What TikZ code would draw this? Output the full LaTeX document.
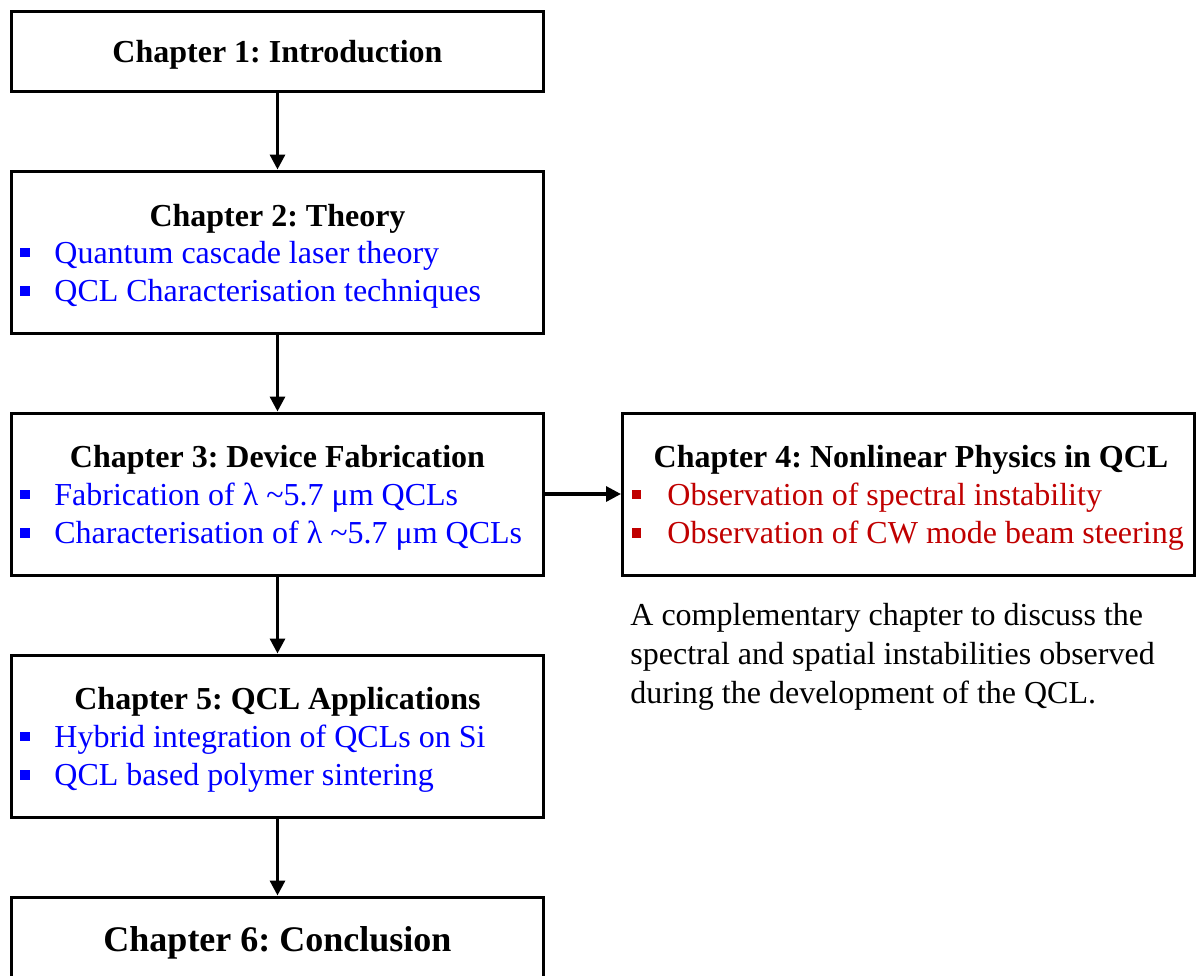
\documentclass[tikz,border=0pt]{standalone}
\usepackage{fontspec}
\setmainfont{Liberation Serif}
\usetikzlibrary{arrows.meta}
\definecolor{itemblue}{RGB}{0,0,255}
\definecolor{itemred}{RGB}{192,0,0}
\frenchspacing
\begin{document}
\begin{tikzpicture}[x=0.5pt, y=-0.5pt,
  every node/.style={inner sep=0pt, font=\fontsize{16}{19.5}\selectfont},
  chapbox/.style={draw, line width=1.5pt, minimum width=266pt, minimum height=81pt},
  chaptitle/.style={anchor=base, font=\fontsize{16}{19.5}\selectfont\bfseries},
  chapitem/.style={anchor=base west},
  sq/.style={fill, minimum width=4.8pt, minimum height=4.8pt},
  link/.style={line width=1.6pt, -{Triangle[length=7.5pt,width=7.5pt]}}]
\useasboundingbox (0,0) rectangle (1196,976);
\clip (0,0) rectangle (1196,976);
\node[chapbox, minimum height=40pt] (b1) at (277.5,51.5) {};
\node[chapbox] (b2) at (277.5,252) {};
\node[chapbox] (b3) at (277.5,494) {};
\node[chapbox, minimum width=286pt] (b4) at (908.5,494) {};
\node[chapbox] (b5) at (277.5,736) {};
\node[chapbox] (b6) at (277.5,978) {};
\draw[link] (b1) -- (b2);
\draw[link] (b2) -- (b3);
\draw[link] (b3) -- (b5);
\draw[link] (b5) -- (b6);
\draw[link] (b3) -- (b4);
\node[chaptitle] (t1) at (277.5,62) {Chapter 1: Introduction};
\node[chaptitle] (t2) at (277.5,226) {Chapter 2: Theory};
\node[sq, itemblue] (s2a) at (25,252.5) {};
\node[chapitem, itemblue] (i2a) at (54,263) {Quantum cascade laser theory};
\node[sq, itemblue] (s2b) at (25,291) {};
\node[chapitem, itemblue] (i2b) at (54,301.5) {QCL Characterisation techniques};
\node[chaptitle] (t3) at (277.5,467.5) {Chapter 3: Device Fabrication};
\node[sq, itemblue] (s3a) at (25,494.5) {};
\node[chapitem, itemblue] (i3a) at (54,505) {Fabrication of λ \textasciitilde5.7 μm QCLs};
\node[sq, itemblue] (s3b) at (25,533) {};
\node[chapitem, itemblue] (i3b) at (54,543.5) {Characterisation of λ \textasciitilde5.7 μm QCLs};
\node[chaptitle] (t4) at (911,467.5) {Chapter 4: Nonlinear Physics in QCL};
\node[sq, itemred] (s4a) at (636.5,494.5) {};
\node[chapitem, itemred] (i4a) at (667,505) {Observation of spectral instability};
\node[sq, itemred] (s4b) at (636.5,533) {};
\node[chapitem, itemred] (i4b) at (667,543.5) {Observation of CW mode beam steering};
\node[chapitem] (p1) at (630,625) {A complementary chapter to discuss the};
\node[chapitem] (p2) at (630,664) {spectral and spatial instabilities observed};
\node[chapitem] (p3) at (630,703) {during the development of the QCL.};
\node[chaptitle] (t5) at (277.5,709.5) {Chapter 5: QCL Applications};
\node[sq, itemblue] (s5a) at (25,736.5) {};
\node[chapitem, itemblue] (i5a) at (54,747) {Hybrid integration of QCLs on Si};
\node[sq, itemblue] (s5b) at (25,775) {};
\node[chapitem, itemblue] (i5b) at (54,785.5) {QCL based polymer sintering};
\node[chaptitle, font=\fontsize{18}{22}\selectfont\bfseries] (t6) at (277.5,951) {Chapter 6: Conclusion};
\end{tikzpicture}
\end{document}
